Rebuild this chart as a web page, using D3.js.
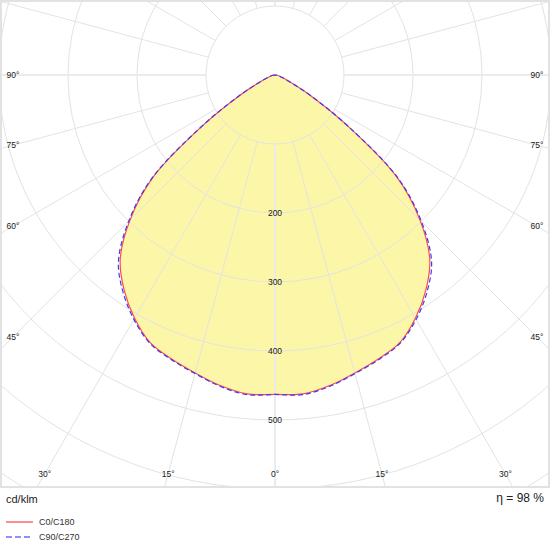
<!DOCTYPE html>
<html>
<head>
<meta charset="utf-8">
<script src="https://cdn.jsdelivr.net/npm/d3@7"></script>
<style>
  body { margin: 0; background: #fff; }
  svg { display: block; }
  text { font-family: "Liberation Sans", Arial, sans-serif; }
</style>
</head>
<body>
<div id="chart"></div>
<script>
// gamma angles (deg from nadir) and intensities in cd/klm
const gammas = [0, 5, 10, 15, 20, 25, 30, 35, 40, 45, 50, 55, 60, 65, 70, 75, 80, 85, 90];
const c0c180 = [463, 464, 457, 447, 438, 428, 407, 381, 349, 297, 231, 128, 58, 24, 12, 7, 4, 2, 0];
const c90c270 = [463, 465, 458, 448, 439, 429, 409, 384, 353, 300, 233, 129, 59, 24, 12, 7, 4, 2, 0];

const ringValues = [100, 200, 300, 400, 500, 600, 700, 800];
const ringLabels = [200, 300, 400, 500];
const spokeAngles = d3.range(0, 360, 15);
const angleLabels = [0, 15, 30, 45, 60, 75, 90];

const seriesNames = ["C0/C180", "C90/C270"];
const efficiency = "η = 98 %";
const unitLabel = "cd/klm";

const width = 550, height = 550;
const plotH = 487;
const cx = 275, cy = 75;

const svg = d3.select("#chart")
    .append("svg")
    .attr("width", width)
    .attr("height", height);

const r = d3.scaleLinear().domain([0, 100]).range([0, 69]);

svg.append("clipPath")
    .attr("id", "plotclip")
    .append("rect")
    .attr("x", 0).attr("y", 0)
    .attr("width", width).attr("height", plotH);

const plot = svg.append("g").attr("clip-path", "url(#plotclip)");
const g = plot.append("g").attr("transform", "translate(" + cx + "," + cy + ")");

//build closed outline: left half (C180 / C270) then right half (C0 / C90)
function outline(vals) {
  const pts = [];
  for (let i = gammas.length - 1; i >= 0; i--) pts.push({a: Math.PI + gammas[i] * Math.PI / 180, v: vals[i]});
  for (let i = 1; i < gammas.length; i++) pts.push({a: Math.PI - gammas[i] * Math.PI / 180, v: vals[i]});
  return pts;
}

const radial = d3.lineRadial()
    .angle((d) => d.a)
    .radius((d) => r(d.v))
    .curve(d3.curveCatmullRom.alpha(0.5));

// fill
g.append("path")
    .attr("d", radial(outline(c0c180)) + "Z")
    .attr("fill", "#fcf7a8");

// rings
g.selectAll(".ring")
    .data(ringValues)
    .enter()
    .append("circle")
    .attr("class", "ring")
    .attr("r", (d) => r(d))
    .attr("fill", "none")
    .attr("stroke", "#e3e3e3")
    .attr("stroke-width", 1);

// spokes, starting at the 100 ring
g.selectAll(".spoke")
    .data(spokeAngles)
    .enter()
    .append("line")
    .attr("class", "spoke")
    .attr("x1", (d) => r(100) * Math.sin(d * Math.PI / 180))
    .attr("y1", (d) => r(100) * Math.cos(d * Math.PI / 180))
    .attr("x2", (d) => r(1000) * Math.sin(d * Math.PI / 180))
    .attr("y2", (d) => r(1000) * Math.cos(d * Math.PI / 180))
    .attr("stroke", (d) => d % 90 === 0 ? "#ebebeb" : "#e3e3e3")
    .attr("stroke-width", (d) => d % 90 === 0 ? 2 : 1);

// curves
g.append("path")
    .attr("d", radial(outline(c0c180)))
    .attr("fill", "none")
    .attr("stroke", "#ff4a4a")
    .attr("stroke-width", 1.2);

g.append("path")
    .attr("d", radial(outline(c90c270)))
    .attr("fill", "none")
    .attr("stroke", "#3a3aff")
    .attr("stroke-width", 1.2)
    .attr("stroke-dasharray", "5,3");

// ring labels
g.selectAll(".rlab")
    .data(ringLabels)
    .enter()
    .append("text")
    .attr("x", 0)
    .attr("y", (d) => r(d))
    .attr("dy", "0.35em")
    .attr("text-anchor", "middle")
    .attr("font-size", "8.5px")
    .attr("fill", "#222")
    .text((d) => d);

// angle labels placed on an inset rectangle
const halfW = 262, bottomY = 399;
const labelPos = [];
angleLabels.forEach((a) => {
  const sides = a === 0 ? [1] : [-1, 1];
  sides.forEach((s) => {
    const t = Math.tan(a * Math.PI / 180);
    let x, y;
    if (a < 90 && bottomY * t <= halfW) { x = s * bottomY * t; y = bottomY; }
    else { x = s * halfW; y = a === 90 ? 0 : halfW / t; }
    labelPos.push({a: a, x: x, y: y});
  });
});

g.selectAll(".alab")
    .data(labelPos)
    .enter()
    .append("text")
    .attr("x", (d) => d.x)
    .attr("y", (d) => d.y)
    .attr("dy", "0.35em")
    .attr("text-anchor", "middle")
    .attr("font-size", "8.5px")
    .attr("fill", "#222")
    .text((d) => d.a + "°");

// frame
svg.append("rect")
    .attr("x", 1).attr("y", 1)
    .attr("width", width - 2).attr("height", plotH - 1)
    .attr("fill", "none")
    .attr("stroke", "#e2e2e2")
    .attr("stroke-width", 2);

// footer
svg.append("text")
    .attr("x", 6).attr("y", 499)
    .attr("dy", "0.35em")
    .attr("font-size", "11px")
    .attr("fill", "#222")
    .text(unitLabel);

svg.append("text")
    .attr("x", 544).attr("y", 498)
    .attr("dy", "0.35em")
    .attr("text-anchor", "end")
    .attr("font-size", "12px")
    .attr("fill", "#222")
    .text(efficiency);

// legend
const legend = svg.selectAll(".leg")
    .data(seriesNames)
    .enter()
    .append("g")
    .attr("class", "leg")
    .attr("transform", (d, i) => "translate(6," + (522 + i * 15) + ")");

legend.append("line")
    .attr("x1", 0).attr("x2", 27)
    .attr("stroke", (d, i) => i === 0 ? "#ff8f8f" : "#8f8fff")
    .attr("stroke-width", 2)
    .attr("stroke-dasharray", (d, i) => i === 0 ? null : "6,3");

legend.append("text")
    .attr("x", 33)
    .attr("dy", "0.35em")
    .attr("font-size", "9px")
    .attr("fill", "#333")
    .text((d) => d);
</script>
</body>
</html>
